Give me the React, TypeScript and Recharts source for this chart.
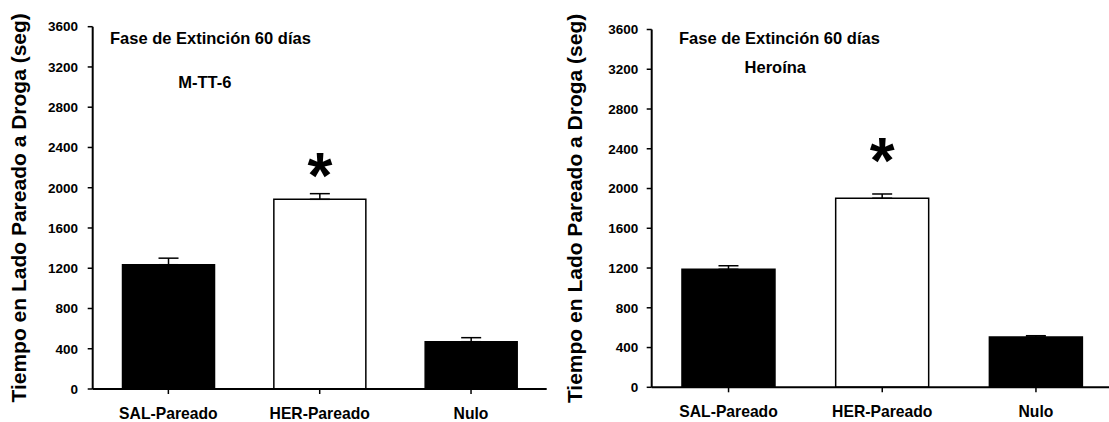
import { BarChart, Bar, XAxis, YAxis, Cell, ErrorBar, LabelList } from 'recharts';

const categories = ['SAL-Pareado', 'HER-Pareado', 'Nulo'];
const mtt6Means = [1235, 1885, 470];
const mtt6Sem = [65, 56, 40];
const heroinaMeans = [1187, 1902, 506];
const heroinaSem = [36, 43, 13];
const significance = ['', '*', ''];
const yTicks = [0, 400, 800, 1200, 1600, 2000, 2400, 2800, 3200, 3600];

const barFills = ['#000000', '#ffffff', '#000000'];
const font = "'Liberation Sans', Arial, sans-serif";
const yLabel = 'Tiempo en Lado Pareado a Droga (seg)';

type PanelProps = {
  means: number[];
  sem: number[];
  subtitle: string;
  left: number;
  width: number;
  top: number;
  axisWidth: number;
  axisHeight: number;
  right: number;
  labelX: number;
  titleX: number;
  subX: number;
  subY: number;
  starDy: number;
  tickMargin: number;
};

const Panel = (p: PanelProps) => {
  const data = categories.map((name, i) => ({
    name,
    mean: p.means[i],
    err: [0, p.sem[i]],
    sig: significance[i],
  }));

  // asterisk over the significant bar, placed from the bar's own geometry
  const renderStar = (props: any) => {
    if (!props.value) return null;
    const cx = Number(props.x) + Number(props.width) / 2;
    return (
      <text
        x={cx}
        y={Number(props.y) + p.starDy}
        textAnchor="middle"
        fontFamily={font}
        fontWeight="bold"
        fontSize={64}
        fill="#000"
      >
        {props.value}
      </text>
    );
  };

  return (
    <div style={{ position: 'absolute', left: p.left, top: 0, width: p.width, height: 422 }}>
      <BarChart
        width={p.width}
        height={422}
        data={data}
        margin={{ top: p.top, right: p.right, bottom: 0, left: 0 }}
        barCategoryGap="19.7%"
      >
        <XAxis
          dataKey="name"
          height={p.axisHeight}
          tickSize={5}
          tickMargin={13.5}
          axisLine={{ stroke: '#000', strokeWidth: 2 }}
          tickLine={{ stroke: '#000', strokeWidth: 1.5 }}
          tick={{ fill: '#000', fontSize: 15.7, fontWeight: 'bold', fontFamily: font }}
        />
        <YAxis
          width={p.axisWidth}
          domain={[0, 3600]}
          ticks={yTicks}
          interval={0}
          tickSize={5}
          tickMargin={p.tickMargin}
          axisLine={{ stroke: '#000', strokeWidth: 2 }}
          tickLine={{ stroke: '#000', strokeWidth: 1.5 }}
          tick={{ fill: '#000', fontSize: 13.5, fontWeight: 'bold', fontFamily: font }}
          label={{
            value: yLabel,
            angle: -90,
            position: 'insideLeft',
            offset: p.labelX,
            style: { textAnchor: 'middle', fontSize: 21, fontWeight: 'bold', fill: '#000', fontFamily: font },
          }}
        />
        <Bar dataKey="mean" stroke="#000" strokeWidth={1.5} isAnimationActive={false}>
          {data.map((d, i) => (
            <Cell key={d.name} fill={barFills[i]} />
          ))}
          <ErrorBar dataKey="err" direction="y" width={10} stroke="#000" strokeWidth={1.5} />
          <LabelList dataKey="sig" content={renderStar} />
        </Bar>
      </BarChart>
      <svg
        width={p.width}
        height={422}
        style={{ position: 'absolute', left: 0, top: 0, pointerEvents: 'none' }}
      >
        <text x={p.titleX} y={44.3} fontFamily={font} fontWeight="bold" fontSize={16.5} fill="#000">
          Fase de Extinción 60 días
        </text>
        <text x={p.subX} y={p.subY} fontFamily={font} fontWeight="bold" fontSize={16.5} fill="#000">
          {p.subtitle}
        </text>
      </svg>
    </div>
  );
};

export default function App() {
  return (
    <div
      style={{
        position: 'absolute',
        left: 0,
        top: 0,
        width: 1109,
        height: 422,
        overflow: 'hidden',
        background: '#fff',
      }}
    >
      <Panel
        means={mtt6Means}
        sem={mtt6Sem}
        subtitle="M-TT-6"
        left={0}
        width={560}
        top={26.7}
        axisWidth={92.7}
        axisHeight={33}
        right={13.3}
        labelX={18.5}
        titleX={110}
        subX={178.3}
        subY={88.3}
        starDy={-1}
        tickMargin={9.7}
      />
      <Panel
        means={heroinaMeans}
        sem={heroinaSem}
        subtitle="Heroína"
        left={552}
        width={562}
        top={29.5}
        axisWidth={99.7}
        axisHeight={34.7}
        right={1.2}
        labelX={23}
        titleX={127}
        subX={192.6}
        subY={72.5}
        starDy={-15.5}
        tickMargin={8.4}
      />
    </div>
  );
}
